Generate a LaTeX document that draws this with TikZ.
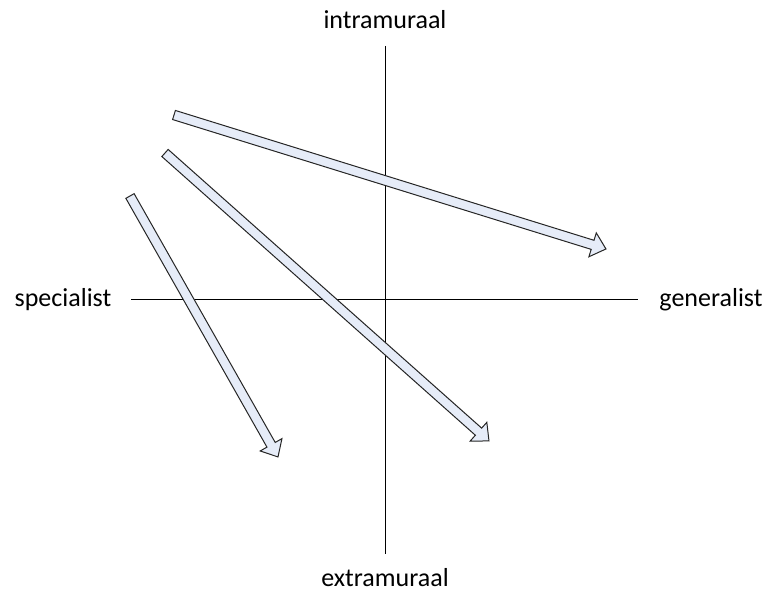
\documentclass[tikz,border=0pt]{standalone}
\usepackage{fontspec}
\setmainfont{Carlito}
\usetikzlibrary{calc}

% hollow block arrow from tail to tip
\newcommand{\blockarrow}[2]{%
  \draw[shift arrow] let \p1=($(#2)-(#1)$), \n1={atan2(\y1,\x1)}, \n2={veclen(\x1,\y1)} in
    [shift={(#1)}, rotate=\n1]
    (0pt,4.75pt) -- (\n2-14pt,4.75pt) -- (\n2-14pt,12.5pt) -- (\n2,0pt)
    -- (\n2-14pt,-12.5pt) -- (\n2-14pt,-4.75pt) -- (0pt,-4.75pt) -- cycle;}

\begin{document}
\begin{tikzpicture}[
  x=1pt, y=-1pt,
  axis/.style={draw=black, line width=1pt},
  axislabel/.style={font=\fontsize{26}{31}\selectfont, inner sep=0pt},
  shift arrow/.style={draw=black!85, line width=1pt, fill={rgb,255:red,230;green,236;blue,248}, line join=miter}
]
\useasboundingbox (0,0) rectangle (769,593);

% axis labels
\node[axislabel] (intra) at (385,20) {intramuraal};
\node[axislabel] (extra) at (385,578) {extramuraal};
\node[axislabel] (spec) at (63,300) {specialist};
\node[axislabel] (gen) at (711,300) {generalist};

% axes
\coordinate (vtop) at (385,46);
\coordinate (vbot) at (385,554);
\coordinate (hleft) at (131,300);
\coordinate (hright) at (638,300);
\draw[axis] (vtop) -- (vbot);
\draw[axis] (hleft) -- (hright);

% shifts
\coordinate (tail1) at (174,115);
\coordinate (tip1) at (606,249);
\coordinate (tail2) at (165,153);
\coordinate (tip2) at (489,441);
\coordinate (tail3) at (130,196);
\coordinate (tip3) at (278,457);
\blockarrow{tail1}{tip1}
\blockarrow{tail2}{tip2}
\blockarrow{tail3}{tip3}
\end{tikzpicture}
\end{document}
